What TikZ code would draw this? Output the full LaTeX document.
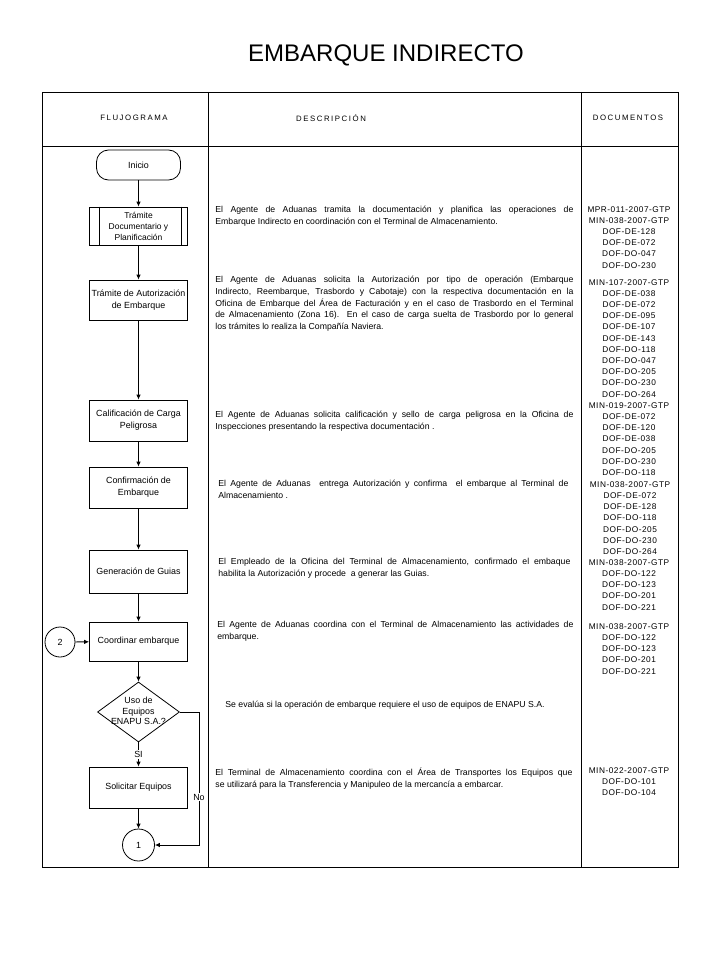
\documentclass[tikz,border=0pt]{standalone}
\usepackage{fontspec}
\setmainfont{Liberation Sans}
\usetikzlibrary{shapes.geometric,arrows.meta}
\newcommand{\jl}[2][358pt]{\makebox[#1][s]{#2}}
\begin{document}
\begin{tikzpicture}[x=1pt,y=-1pt,line width=0.8pt,
  every node/.style={font=\fontsize{8.9}{12}\selectfont},
  fbox/.style={draw,rectangle,minimum width=98pt,align=center,inner sep=1pt},
  ar/.style={-{Latex[length=5pt,width=4.5pt]}},
  desc/.style={anchor=north west,inner sep=0pt,align=left,font=\fontsize{8.7}{11.6}\selectfont},
  docs/.style={anchor=north,inner sep=0pt,align=center,font=\fontsize{8.3}{11.2}\selectfont\addfontfeature{LetterSpace=6}},
  hdr/.style={font=\fontsize{7.8}{9}\selectfont\addfontfeature{LetterSpace=20}},
  conn/.style={circle,draw,minimum size=31pt,inner sep=0pt},
  lbl/.style={fill=white,inner sep=1pt}
]
\useasboundingbox (0,0) rectangle (720,960);
\fill[white] (0,0) rectangle (720,960);

% title
\node (title) at (386,55) {\fontsize{24}{28}\selectfont EMBARQUE INDIRECTO};

% table
\draw (42,92) rectangle (678,867);
\draw (42,146) -- (678,146);
\draw (208,92) -- (208,867);
\draw (581,92) -- (581,867);
\node[hdr] (h1) at (134,118) {FLUJOGRAMA};
\node[hdr] (h2) at (331,118) {DESCRIPCIÓN};
\node[hdr] (h3) at (628,118) {DOCUMENTOS};

% flowchart
\node[draw,rounded corners=12pt,minimum width=84pt,minimum height=30pt,inner sep=0pt] (inicio) at (138.5,165) {Inicio};
\node[fbox,minimum height=38pt,inner sep=0pt,font=\fontsize{8.5}{11}\selectfont] (tdoc) at (138.5,226) {Trámite\\Documentario y\\Planificación};
\draw ([xshift=10pt]tdoc.north west) -- ([xshift=10pt]tdoc.south west);
\draw ([xshift=-7pt]tdoc.north east) -- ([xshift=-7pt]tdoc.south east);
\node[fbox,minimum height=40pt] (taut) at (138.5,300) {Trámite de Autorización\\de Embarque};
\node[fbox,minimum height=41pt] (calif) at (138.5,420.5) {Calificación de Carga\\Peligrosa};
\node[fbox,minimum height=41pt] (conf) at (138.5,487.5) {Confirmación de\\Embarque};
\node[fbox,minimum height=43pt] (gen) at (138.5,571.5) {Generación de Guias};
\node[fbox,minimum height=39pt] (coord) at (138.5,641.5) {Coordinar embarque};
\node[draw,diamond,minimum width=82pt,minimum height=60pt,inner sep=0pt] (dia) at (138.5,712) {};
\node[align=center,inner sep=0pt,font=\fontsize{8.9}{10.8}\selectfont] (diat) at (138.5,711) {Uso de\\Equipos\\ENAPU S.A.?};
\node[fbox,minimum height=41pt] (sol) at (138.5,787.5) {Solicitar Equipos};
\node[conn,minimum size=32pt] (c1) at (138.5,845) {1};
\node[conn,minimum size=30pt] (c2) at (60,642) {2};
\coordinate (nocorner) at (199,712);

\draw[ar] (inicio) -- (tdoc);
\draw[ar] (tdoc) -- (taut);
\draw[ar] (taut) -- (calif);
\draw[ar] (calif) -- (conf);
\draw[ar] (conf) -- (gen);
\draw[ar] (gen) -- (coord);
\draw[ar] (c2) -- (coord);
\draw[ar] (coord) -- (dia);
\draw[ar] (dia) -- node[lbl] {SI} (sol);
\draw[ar] (sol) -- (c1);
\draw[ar] (dia.east) -- (nocorner) |- node[lbl,pos=0.32] {No} (c1.east);

% descriptions
\node[desc] (d1) at (215,206) {\jl{El Agente de Aduanas tramita la documentación y planifica las operaciones de}\\Embarque Indirecto en coordinación con el Terminal de Almacenamiento.};
\node[desc] (d2) at (215,276) {\jl{El Agente de Aduanas solicita la Autorización por tipo de operación (Embarque}\\\jl{Indirecto, Reembarque, Trasbordo y Cabotaje) con la respectiva documentación en la}\\\jl{Oficina de Embarque del Área de Facturación y en el caso de Trasbordo en el Terminal}\\\jl{de Almacenamiento (Zona 16). En el caso de carga suelta de Trasbordo por lo general}\\los trámites lo realiza la Compañía Naviera.};
\node[desc] (d3) at (215,411) {\jl{El Agente de Aduanas solicita calificación y sello de carga peligrosa en la Oficina de}\\Inspecciones presentando la respectiva documentación .};
\node[desc] (d4) at (218,480) {\jl[350pt]{El Agente de Aduanas \ entrega Autorización y confirma \ el embarque al Terminal de}\\Almacenamiento .};
\node[desc] (d5) at (218,558) {\jl[352pt]{El Empleado de la Oficina del Terminal de Almacenamiento, confirmado el embaque}\\habilita la Autorización y procede \ a generar las Guias.};
\node[desc] (d6) at (217,621) {\jl[356pt]{El Agente de Aduanas coordina con el Terminal de Almacenamiento las actividades de}\\embarque.};
\node[desc] (d7) at (225,701) {Se evalúa si la operación de embarque requiere el uso de equipos de ENAPU S.A.};
\node[desc] (d8) at (215,768) {\jl[357pt]{El Terminal de Almacenamiento coordina con el Área de Transportes los Equipos que}\\se utilizará para la Transferencia y Manipuleo de la mercancía a embarcar.};

% documents
\node[docs] (g1) at (629,206) {MPR-011-2007-GTP\\MIN-038-2007-GTP\\DOF-DE-128\\DOF-DE-072\\DOF-DO-047\\DOF-DO-230};
\node[docs] (g2) at (629,279) {MIN-107-2007-GTP\\DOF-DE-038\\DOF-DE-072\\DOF-DE-095\\DOF-DE-107\\DOF-DE-143\\DOF-DO-118\\DOF-DO-047\\DOF-DO-205\\DOF-DO-230\\DOF-DO-264};
\node[docs] (g3) at (629,402) {MIN-019-2007-GTP\\DOF-DE-072\\DOF-DE-120\\DOF-DE-038\\DOF-DO-205\\DOF-DO-230\\DOF-DO-118};
\node[docs] (g4) at (630,481) {MIN-038-2007-GTP\\DOF-DE-072\\DOF-DE-128\\DOF-DO-118\\DOF-DO-205\\DOF-DO-230\\DOF-DO-264};
\node[docs] (g5) at (629,559) {MIN-038-2007-GTP\\DOF-DO-122\\DOF-DO-123\\DOF-DO-201\\DOF-DO-221};
\node[docs] (g6) at (629,623) {MIN-038-2007-GTP\\DOF-DO-122\\DOF-DO-123\\DOF-DO-201\\DOF-DO-221};
\node[docs] (g7) at (629,767) {MIN-022-2007-GTP\\DOF-DO-101\\DOF-DO-104};
\end{tikzpicture}
\end{document}
